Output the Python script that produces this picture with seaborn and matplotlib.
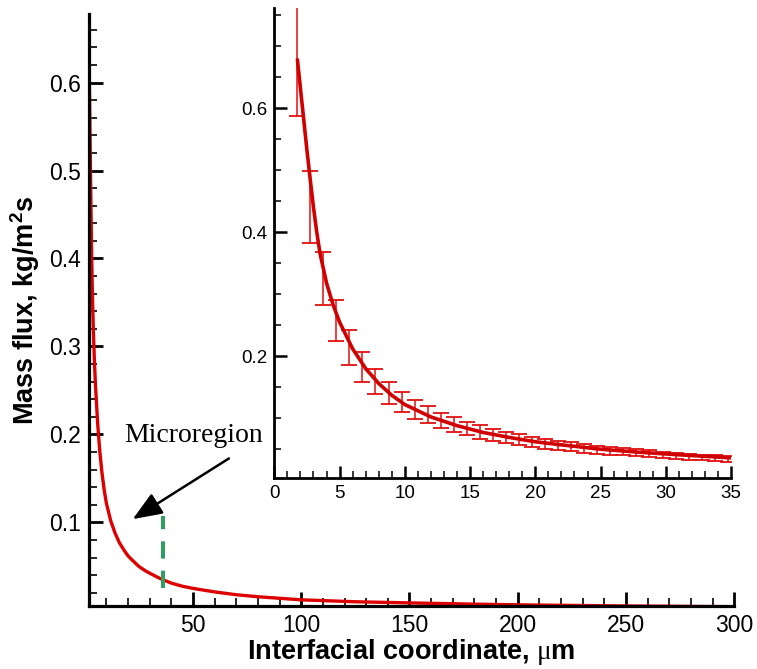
import numpy as np
import pandas as pd
import matplotlib
matplotlib.use("Agg")
import matplotlib.pyplot as plt
from matplotlib.ticker import MultipleLocator
import seaborn as sns

# ---- data ----
curve_x = [1.77, 2.0, 2.25, 2.5, 2.75, 3.0, 3.25, 3.5, 4.0, 4.5, 5.0, 6.0, 7.0, 8.0, 9.0,
           10.0, 12.0, 14.0, 16.0, 18.0, 20.0, 22.0, 25.0, 28.0, 31.0, 35.0, 40.0, 45.0,
           50.0, 60.0, 70.0, 80.0, 100.0, 125.0, 150.0, 175.0, 200.0, 250.0, 300.0]
curve_y = [0.678, 0.632, 0.582, 0.532, 0.485, 0.440, 0.400, 0.366, 0.318, 0.283, 0.255,
           0.212, 0.180, 0.156, 0.137, 0.122, 0.102, 0.088, 0.077, 0.069, 0.062, 0.057,
           0.050, 0.045, 0.041, 0.036, 0.031, 0.0275, 0.025, 0.021, 0.0178, 0.0155,
           0.012, 0.0098, 0.0085, 0.0073, 0.0063, 0.0050, 0.0042]

err_x = [1.75, 2.75, 3.75, 4.75, 5.75, 6.75, 7.75, 8.75, 9.75, 10.75, 11.75, 12.75, 13.75,
         14.75, 15.75, 16.75, 17.75, 18.75, 19.75, 20.75, 21.75, 22.75, 23.75, 24.75, 25.75,
         26.75, 27.75, 28.75, 29.75, 30.75, 31.75, 32.75, 33.75, 34.75]
err_lo = [0.587, 0.382, 0.283, 0.224, 0.186, 0.158, 0.139, 0.123, 0.110, 0.0995, 0.092,
          0.084, 0.078, 0.073, 0.067, 0.063, 0.060, 0.057, 0.054, 0.051, 0.049, 0.047,
          0.0446, 0.0425, 0.041, 0.040, 0.0387, 0.037, 0.0355, 0.0344, 0.0333, 0.032,
          0.031, 0.030]
err_hi = [0.80, 0.499, 0.368, 0.291, 0.242, 0.206, 0.180, 0.159, 0.142, 0.130, 0.119,
          0.109, 0.1016, 0.094, 0.089, 0.083, 0.0785, 0.0737, 0.069, 0.0667, 0.063, 0.061,
          0.058, 0.0553, 0.054, 0.0527, 0.0505, 0.0484, 0.0462, 0.0446, 0.043, 0.0414,
          0.040, 0.0387]

micro_x = 36.3
micro_y = [0.026, 0.1075]
annot_text = "Microregion"
annot_text_xy = (50.4, 0.199)
annot_tail = (66.6, 0.1727)
annot_tip = (22.2, 0.1037)

x_label = "Interfacial coordinate, $\\mathrm{\\mu}$m"
y_label = "Mass flux, kg/m$^{\\mathbf{2}}$s"

# ---- style ----
sns.set_theme(style="ticks")
plt.rcParams['font.family'] = ['Liberation Sans', 'DejaVu Sans']
plt.rcParams['mathtext.fontset'] = 'custom'
plt.rcParams['mathtext.rm'] = 'Liberation Serif'
plt.rcParams['mathtext.bf'] = 'Liberation Sans:bold'
for key in ['text.color', 'axes.labelcolor', 'xtick.color', 'ytick.color', 'axes.edgecolor']:
    plt.rcParams[key] = 'black'

df = pd.DataFrame({"x": curve_x, "y": curve_y})

fig = plt.figure(figsize=(7.57, 6.69), dpi=100)
ax = fig.add_axes([0.1176, 0.0942, 0.8524, 0.885])

sns.lineplot(data=df, x="x", y="y", ax=ax, color="#dd0000", linewidth=2.4)
ax.set_xlim(2, 300)
ax.set_ylim(0.005, 0.678)
ax.xaxis.set_minor_locator(MultipleLocator(10))
ax.yaxis.set_minor_locator(MultipleLocator(0.02))
ax.set_xticks([50, 100, 150, 200, 250, 300])
ax.set_xticklabels(["50", "100", "150", "200", "250", "300"])
ax.set_yticks([0.1, 0.2, 0.3, 0.4, 0.5, 0.6])
ax.set_yticklabels(["0.1", "0.2", "0.3", "0.4", "0.5", "0.6"])
for s in ["top", "right"]:
    ax.spines[s].set_visible(False)
for s in ["left", "bottom"]:
    ax.spines[s].set_linewidth(2.3)
    ax.spines[s].set_color("black")
ax.tick_params(which="major", direction="in", length=10, width=2.0, labelsize=16.5,
               pad=6, color="black", labelcolor="black")
ax.tick_params(which="minor", direction="in", length=5.5, width=1.2, color="black")
ax.set_xlabel(x_label, fontsize=19.5, fontweight="bold", labelpad=0, color="black")
ax.set_ylabel(y_label, fontsize=19.5, fontweight="bold", labelpad=5, color="black")

# microregion marker
ax.plot([micro_x, micro_x], micro_y, color="#2f9e63", linewidth=2.9,
        linestyle=(0, (4.3, 3.0)), solid_capstyle="butt", dash_capstyle="butt")
ax.text(annot_text_xy[0], annot_text_xy[1], annot_text, fontsize=20,
        family="Liberation Serif", ha="center", va="center", color="black")
ax.annotate("", xy=annot_tip, xytext=annot_tail,
            arrowprops=dict(arrowstyle="-|>,head_length=1.5,head_width=0.6",
                            color="black", lw=1.8, shrinkA=0, shrinkB=0))

# ---- inset ----
ins = fig.add_axes([0.3624, 0.285, 0.6033, 0.7025])
ins.patch.set_alpha(0.0)
mid = [(a + b) / 2 for a, b in zip(err_lo, err_hi)]
half = [(b - a) / 2 for a, b in zip(err_lo, err_hi)]
ins.errorbar(err_x, mid, yerr=half, fmt="none", ecolor="#e01010", elinewidth=1.1,
             capsize=6, capthick=1.3)
sns.lineplot(data=df, x="x", y="y", ax=ins, color="#d00000", linewidth=2.6)
ins.set_xlim(0, 35)
ins.set_ylim(0.003, 0.761)
ins.xaxis.set_major_locator(MultipleLocator(5))
ins.xaxis.set_minor_locator(MultipleLocator(1))
ins.set_yticks([0.2, 0.4, 0.6])
ins.set_yticklabels(["0.2", "0.4", "0.6"])
ins.yaxis.set_minor_locator(MultipleLocator(0.05))
ins.set_xlabel("")
ins.set_ylabel("")
for s in ["top", "right"]:
    ins.spines[s].set_visible(False)
for s in ["left", "bottom"]:
    ins.spines[s].set_linewidth(2.0)
    ins.spines[s].set_color("black")
ins.tick_params(which="major", direction="in", length=9, width=1.8, labelsize=13.5,
                pad=5, color="black", labelcolor="black")
ins.tick_params(which="minor", direction="in", length=5, width=1.1, color="black")

fig.savefig("out.png", dpi=100)
